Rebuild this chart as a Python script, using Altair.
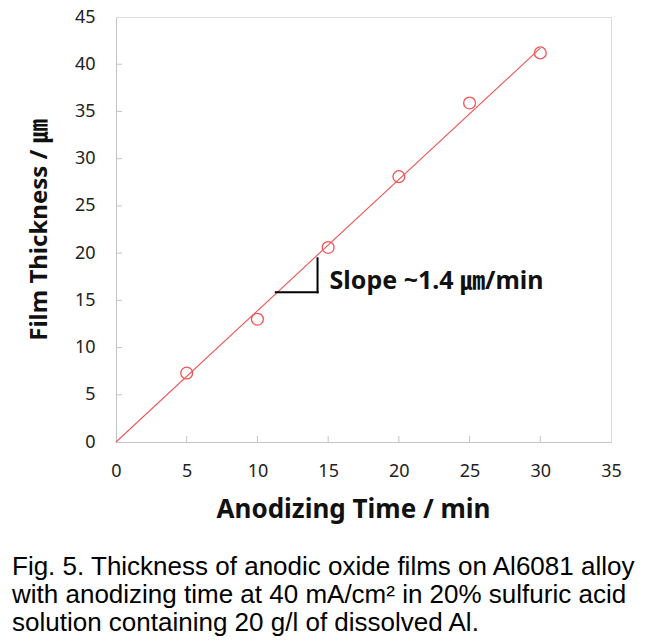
import altair as alt
import pandas as pd

# ---- data ----
time_min = [5, 10, 15, 20, 25, 30]
thickness_um = [7.3, 13.0, 20.6, 28.1, 35.9, 41.2]
fit_x = [0, 30]
fit_y = [0, 41.7]
x_ticks = [0, 5, 10, 15, 20, 25, 30, 35]
y_ticks = [0, 5, 10, 15, 20, 25, 30, 35, 40, 45]
slope_x = [11.3, 14.25]
slope_y = [15.85, 19.45]
slope_label = "Slope ~1.4 \u339b/min"
label_x = [15.1]
label_y = [17.1]
x_title = "Anodizing Time / min"
y_title = "Film Thickness / \u339b"
caption = [
    "Fig. 5. Thickness of anodic oxide films on Al6081 alloy",
    "with anodizing time at 40 mA/cm\u00b2 in 20% sulfuric acid",
    "solution containing 20 g/l of dissolved Al.",
]

W, H = 495, 425
RED = "#EE5555"
FONT = "Noto Sans, Noto Sans CJK KR"

pts = pd.DataFrame({"t": time_min, "d": thickness_um})
fit = pd.DataFrame({"t": fit_x, "d": fit_y})
tri = pd.DataFrame({
    "x": [slope_x[0], slope_x[1]],
    "x2": [slope_x[1], slope_x[1]],
    "y": [slope_y[0], slope_y[0]],
    "y2": [slope_y[0], slope_y[1]],
})
lab = pd.DataFrame({"x": label_x, "y": label_y, "text": [slope_label]})
xt = pd.DataFrame({"v": x_ticks[1:-1]})
yt = pd.DataFrame({"v": y_ticks[1:-1]})

xscale = alt.Scale(domain=[0, 35], nice=False, zero=False)
yscale = alt.Scale(domain=[0, 45], nice=False, zero=False)

xaxis = alt.Axis(values=x_ticks, title=x_title, grid=False, tickSize=0,
                 domainColor="#c4c4c4", labelPadding=20, labelFontSize=18,
                 labelFlush=False,
                 labelColor="#222", labelFont=FONT, titleFont=FONT,
                 titleFontSize=26, titleFontWeight="bold", titleColor="#111",
                 titlePadding=16, titleX=237)
yaxis = alt.Axis(values=y_ticks, title=y_title, grid=False, tickSize=0,
                 domainColor="#c4c4c4", labelPadding=21, labelFontSize=18,
                 labelFlush=False,
                 labelColor="#222", labelFont=FONT, titleFont=FONT,
                 titleFontSize=24, titleFontWeight="bold", titleColor="#111",
                 titlePadding=23)

line = alt.Chart(fit).mark_line(color=RED, strokeWidth=1.1).encode(
    x=alt.X("t:Q", scale=xscale, axis=xaxis),
    y=alt.Y("d:Q", scale=yscale, axis=yaxis),
)
circles = alt.Chart(pts).mark_point(shape="circle", size=140, color=RED,
                                    strokeWidth=1.3, filled=False, opacity=1).encode(
    x=alt.X("t:Q", scale=xscale), y=alt.Y("d:Q", scale=yscale))
triangle = alt.Chart(tri).mark_rule(color="black", strokeWidth=2, strokeCap="square").encode(
    x=alt.X("x:Q", scale=xscale), x2="x2:Q",
    y=alt.Y("y:Q", scale=yscale), y2="y2:Q")
text = alt.Chart(lab).mark_text(align="left", baseline="middle", fontSize=25,
                                fontWeight="bold", font=FONT, color="#111").encode(
    x=alt.X("x:Q", scale=xscale), y=alt.Y("y:Q", scale=yscale), text="text:N")
xtk = alt.Chart(xt).mark_rule(color="#c4c4c4", strokeWidth=1).encode(
    x=alt.X("v:Q", scale=xscale), y=alt.value(H), y2=alt.value(H - 6))
ytk = alt.Chart(yt).mark_rule(color="#c4c4c4", strokeWidth=1).encode(
    y=alt.Y("v:Q", scale=yscale), x=alt.value(0), x2=alt.value(6))

chart = alt.layer(xtk, ytk, line, circles, triangle, text).properties(
    width=W, height=H,
    autosize=alt.AutoSizeParams(type="none"),
    padding={"left": 108, "top": 9, "right": 40, "bottom": 196},
    title=alt.TitleParams(text=caption, orient="bottom", anchor="start",
                          frame="group", dx=-104, offset=32,
                          font="Liberation Sans", fontSize=26,
                          fontWeight="normal", lineHeight=28, color="#000"),
).configure_view(stroke="#858585", strokeWidth=1.5).configure(background="white")

chart.save("out.html", embed_options={"renderer": "svg", "actions": False})
